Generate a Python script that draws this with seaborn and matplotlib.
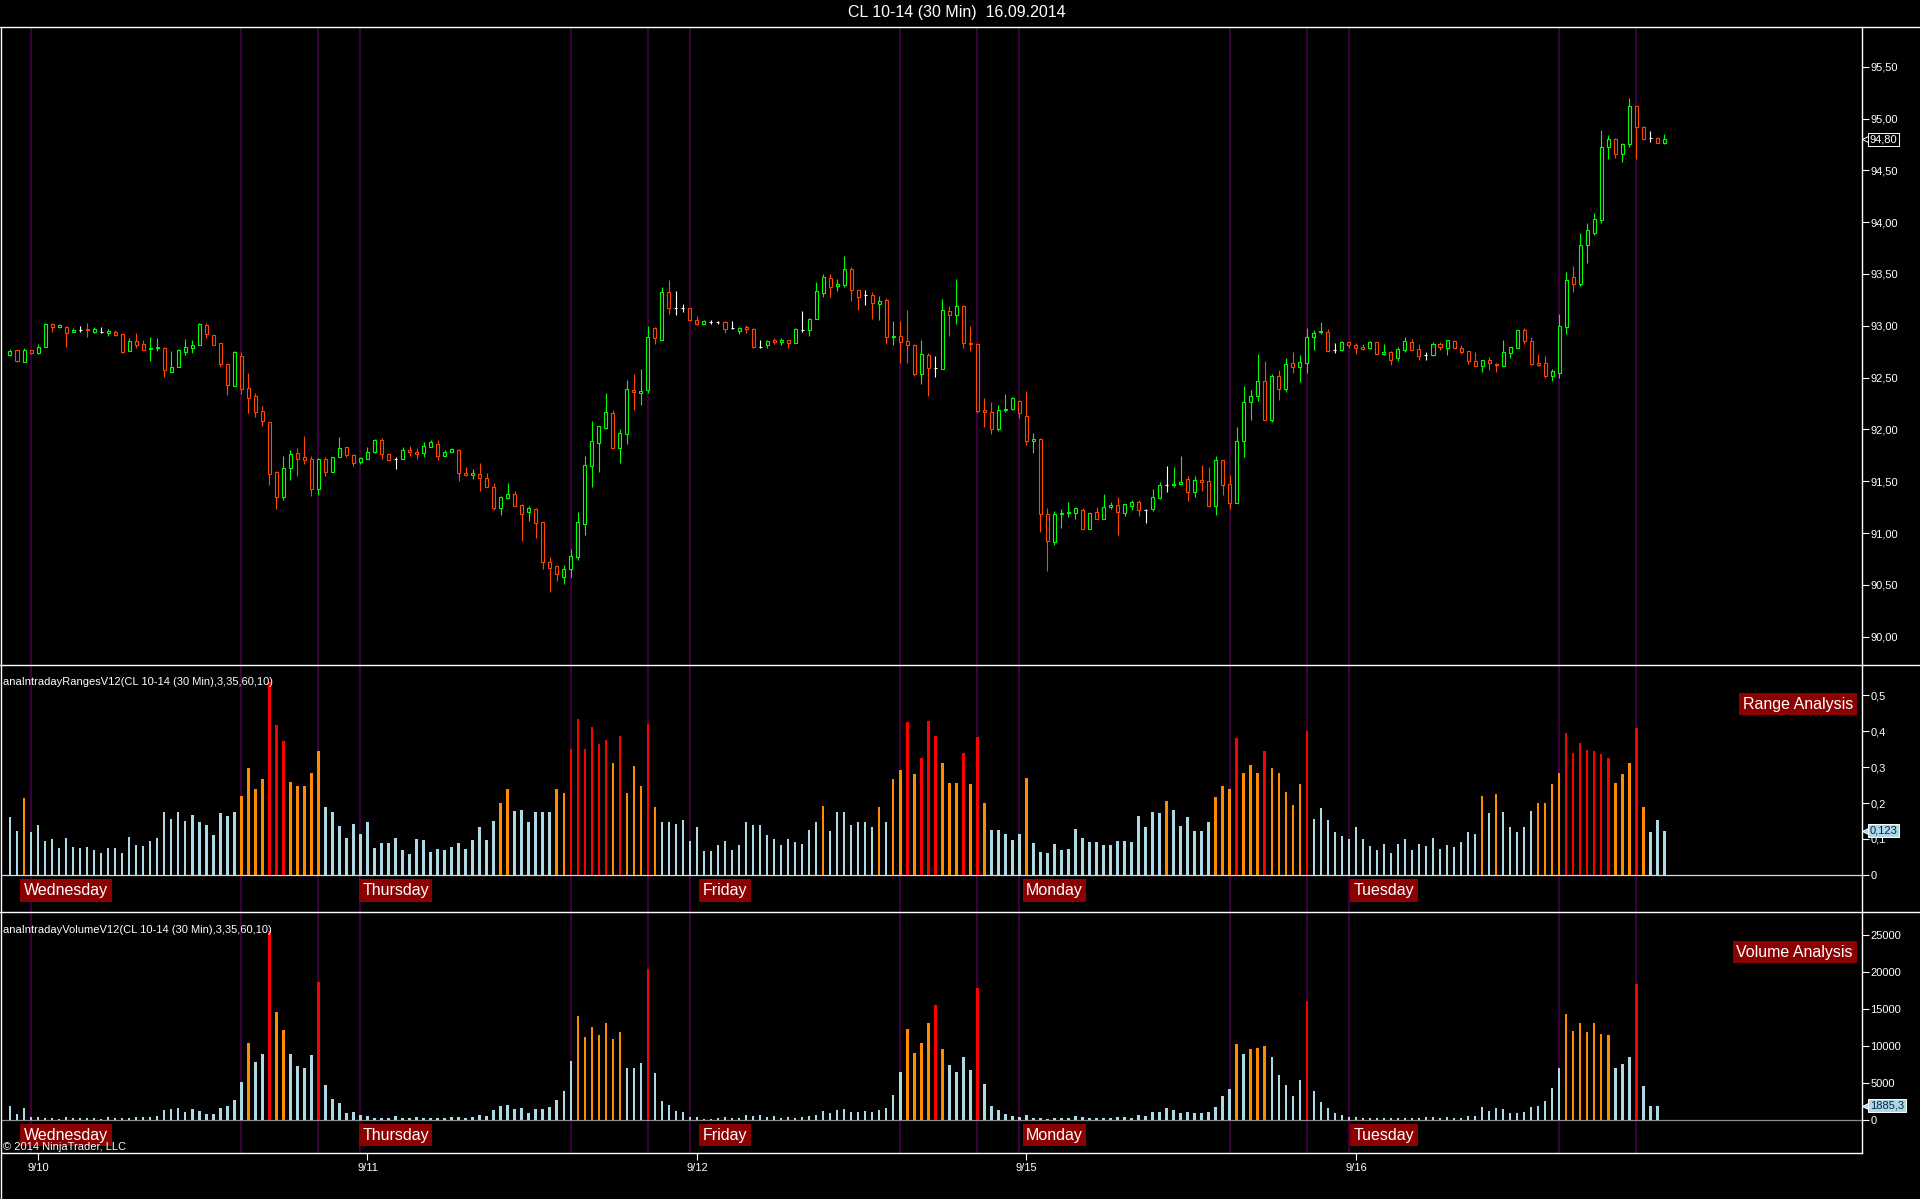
import numpy as np
import pandas as pd
import seaborn as sns
import matplotlib.pyplot as plt
import matplotlib.transforms as mtransforms
from matplotlib.lines import Line2D
from matplotlib.ticker import FuncFormatter

# ---- 30 min OHLC bars, CL 10-14, 9/10 .. 9/16 (bar 0 .. 236) ----
opens = [
    92.72, 92.77, 92.65, 92.77, 92.74, 92.80, 93.02, 92.99, 92.99, 92.94,
    92.96, 92.97, 92.94, 92.94, 92.93, 92.94, 92.92, 92.76, 92.85, 92.82,
    92.78, 92.79, 92.79, 92.55, 92.60, 92.75, 92.79, 92.81, 93.01, 92.91,
    92.83, 92.63, 92.42, 92.71, 92.40, 92.32, 92.18, 92.07, 91.59, 91.35,
    91.63, 91.77, 91.73, 91.71, 91.42, 91.71, 91.59, 91.73, 91.83, 91.75,
    91.69, 91.71, 91.78, 91.90, 91.76, 91.71, 91.71, 91.80, 91.78, 91.77,
    91.83, 91.86, 91.74, 91.78, 91.80, 91.58, 91.56, 91.57, 91.53, 91.44,
    91.24, 91.34, 91.38, 91.27, 91.20, 91.23, 91.11, 90.72, 90.68, 90.58,
    90.65, 90.77, 91.09, 91.65, 91.87, 92.01, 92.16, 91.82, 91.96, 92.38,
    92.35, 92.38, 92.98, 92.86, 93.33, 93.17, 93.17, 93.17, 93.06, 93.02,
    93.04, 93.04, 93.04, 92.98, 92.95, 92.99, 92.97, 92.80, 92.81, 92.86,
    92.84, 92.86, 92.83, 92.96, 92.96, 93.07, 93.32, 93.46, 93.38, 93.39,
    93.55, 93.35, 93.30, 93.30, 93.21, 93.25, 92.89, 92.90, 92.85, 92.81,
    92.53, 92.72, 92.59, 92.58, 93.14, 93.10, 93.19, 92.83, 92.82, 92.19,
    92.17, 92.00, 92.19, 92.20, 92.27, 92.13, 91.89, 91.91, 91.18, 90.91,
    91.18, 91.19, 91.19, 91.22, 91.04, 91.20, 91.14, 91.25, 91.27, 91.19,
    91.26, 91.30, 91.22, 91.23, 91.34, 91.46, 91.46, 91.47, 91.52, 91.40,
    91.51, 91.50, 91.26, 91.70, 91.47, 91.29, 91.89, 92.26, 92.32, 92.47,
    92.09, 92.52, 92.39, 92.64, 92.60, 92.64, 92.89, 92.94, 92.94, 92.77,
    92.77, 92.84, 92.81, 92.80, 92.79, 92.84, 92.73, 92.75, 92.69, 92.77,
    92.84, 92.78, 92.72, 92.72, 92.82, 92.79, 92.85, 92.79, 92.76, 92.66,
    92.61, 92.67, 92.63, 92.61, 92.74, 92.79, 92.96, 92.85, 92.64, 92.64,
    92.52, 92.54, 92.99, 93.47, 93.40, 93.78, 93.90, 94.02, 94.73, 94.80,
    94.66, 94.75, 95.12, 94.92, 94.81, 94.81, 94.76,
]
highs = [
    92.78, 92.77, 92.79, 92.77, 92.82, 93.03, 93.03, 93.02, 93.00, 92.98,
    93.00, 93.03, 92.99, 92.99, 92.97, 92.96, 92.92, 92.88, 92.93, 92.86,
    92.89, 92.88, 92.80, 92.76, 92.78, 92.87, 92.86, 93.03, 93.03, 92.91,
    92.83, 92.63, 92.76, 92.75, 92.54, 92.35, 92.23, 92.07, 91.60, 91.74,
    91.80, 91.82, 91.94, 91.74, 91.72, 91.73, 91.73, 91.93, 91.83, 91.76,
    91.73, 91.83, 91.91, 91.92, 91.76, 91.73, 91.83, 91.84, 91.82, 91.88,
    91.90, 91.90, 91.80, 91.82, 91.81, 91.64, 91.62, 91.68, 91.58, 91.48,
    91.36, 91.48, 91.41, 91.28, 91.26, 91.24, 91.11, 90.77, 90.68, 90.69,
    90.85, 91.20, 91.74, 92.08, 92.03, 92.35, 92.19, 92.00, 92.48, 92.53,
    92.58, 93.00, 92.99, 93.37, 93.44, 93.34, 93.21, 93.17, 93.09, 93.06,
    93.06, 93.05, 93.05, 93.05, 92.99, 93.01, 92.98, 92.86, 92.86, 92.88,
    92.88, 92.86, 92.98, 93.14, 93.08, 93.42, 93.50, 93.50, 93.45, 93.67,
    93.57, 93.35, 93.35, 93.33, 93.29, 93.27, 93.05, 93.05, 93.15, 92.82,
    92.86, 92.74, 92.71, 93.26, 93.19, 93.45, 93.20, 93.00, 92.83, 92.30,
    92.26, 92.24, 92.34, 92.31, 92.28, 92.37, 91.97, 91.92, 91.24, 91.21,
    91.23, 91.30, 91.25, 91.24, 91.19, 91.25, 91.38, 91.30, 91.35, 91.28,
    91.32, 91.32, 91.23, 91.42, 91.49, 91.65, 91.64, 91.74, 91.55, 91.55,
    91.66, 91.64, 91.74, 91.70, 91.56, 92.02, 92.42, 92.38, 92.73, 92.66,
    92.53, 92.57, 92.69, 92.75, 92.72, 92.98, 92.96, 93.04, 92.97, 92.83,
    92.85, 92.84, 92.83, 92.82, 92.85, 92.84, 92.82, 92.76, 92.80, 92.89,
    92.87, 92.82, 92.75, 92.84, 92.84, 92.86, 92.86, 92.81, 92.76, 92.75,
    92.67, 92.70, 92.64, 92.86, 92.80, 92.96, 92.98, 92.89, 92.73, 92.71,
    92.58, 93.11, 93.52, 93.58, 93.90, 93.99, 94.09, 94.89, 94.84, 94.81,
    94.76, 95.20, 95.12, 94.93, 94.88, 94.82, 94.85,
]
lows = [
    92.71, 92.65, 92.65, 92.73, 92.73, 92.80, 92.94, 92.98, 92.80, 92.94,
    92.94, 92.89, 92.93, 92.93, 92.90, 92.90, 92.74, 92.76, 92.79, 92.77,
    92.66, 92.76, 92.51, 92.55, 92.60, 92.72, 92.74, 92.81, 92.88, 92.81,
    92.60, 92.33, 92.42, 92.34, 92.16, 92.12, 92.03, 91.46, 91.23, 91.32,
    91.51, 91.55, 91.67, 91.36, 91.37, 91.55, 91.59, 91.73, 91.73, 91.65,
    91.67, 91.71, 91.77, 91.71, 91.70, 91.62, 91.71, 91.74, 91.71, 91.73,
    91.83, 91.70, 91.74, 91.78, 91.50, 91.55, 91.52, 91.41, 91.44, 91.22,
    91.17, 91.33, 91.26, 90.92, 91.12, 90.95, 90.65, 90.43, 90.54, 90.51,
    90.58, 90.74, 90.98, 91.44, 91.59, 92.00, 91.82, 91.68, 91.86, 92.19,
    92.24, 92.35, 92.82, 92.86, 93.11, 93.10, 93.13, 93.05, 93.01, 93.02,
    93.02, 93.02, 92.93, 92.97, 92.92, 92.93, 92.79, 92.79, 92.79, 92.82,
    92.81, 92.79, 92.83, 92.94, 92.90, 93.07, 93.28, 93.28, 93.34, 93.37,
    93.24, 93.15, 93.20, 93.07, 93.06, 92.82, 92.81, 92.64, 92.64, 92.52,
    92.44, 92.32, 92.51, 92.58, 92.90, 93.02, 92.79, 92.76, 92.16, 92.02,
    91.96, 91.98, 92.17, 92.19, 92.11, 91.85, 91.77, 91.01, 90.63, 90.88,
    91.05, 91.15, 91.14, 91.04, 91.04, 91.14, 91.14, 91.23, 90.98, 91.16,
    91.22, 91.16, 91.10, 91.21, 91.33, 91.40, 91.44, 91.47, 91.31, 91.35,
    91.41, 91.25, 91.17, 91.37, 91.23, 91.29, 91.73, 92.09, 92.27, 92.09,
    92.07, 92.28, 92.36, 92.54, 92.46, 92.54, 92.77, 92.92, 92.76, 92.74,
    92.76, 92.79, 92.73, 92.77, 92.78, 92.73, 92.72, 92.62, 92.66, 92.75,
    92.77, 92.67, 92.67, 92.71, 92.77, 92.72, 92.79, 92.73, 92.63, 92.61,
    92.55, 92.57, 92.55, 92.61, 92.69, 92.79, 92.82, 92.62, 92.61, 92.50,
    92.47, 92.50, 92.92, 93.33, 93.38, 93.61, 93.88, 93.99, 94.61, 94.62,
    94.58, 94.73, 94.61, 94.79, 94.77, 94.76, 94.75,
]
closes = [
    92.76, 92.66, 92.77, 92.74, 92.80, 93.02, 92.99, 93.01, 92.93, 92.96,
    92.96, 92.96, 92.97, 92.94, 92.95, 92.91, 92.75, 92.85, 92.81, 92.77,
    92.79, 92.80, 92.57, 92.60, 92.77, 92.80, 92.81, 93.02, 92.92, 92.81,
    92.63, 92.43, 92.75, 92.39, 92.30, 92.17, 92.08, 91.57, 91.35, 91.63,
    91.76, 91.71, 91.70, 91.42, 91.71, 91.59, 91.73, 91.82, 91.75, 91.68,
    91.72, 91.78, 91.90, 91.76, 91.70, 91.71, 91.80, 91.78, 91.76, 91.84,
    91.88, 91.74, 91.78, 91.81, 91.58, 91.56, 91.58, 91.53, 91.44, 91.24,
    91.35, 91.38, 91.26, 91.18, 91.24, 91.10, 90.72, 90.66, 90.60, 90.65,
    90.78, 91.11, 91.66, 91.89, 92.03, 92.17, 91.82, 91.97, 92.39, 92.36,
    92.37, 92.89, 92.88, 93.33, 93.17, 93.17, 93.17, 93.06, 93.02, 93.05,
    93.04, 93.04, 92.97, 92.98, 92.98, 92.97, 92.80, 92.80, 92.85, 92.84,
    92.86, 92.83, 92.97, 92.96, 93.07, 93.34, 93.47, 93.37, 93.40, 93.55,
    93.35, 93.28, 93.30, 93.22, 93.24, 92.89, 92.90, 92.84, 92.81, 92.53,
    92.73, 92.59, 92.59, 93.15, 93.10, 93.19, 92.83, 92.82, 92.18, 92.17,
    92.00, 92.19, 92.20, 92.30, 92.16, 91.89, 91.91, 91.18, 90.92, 91.18,
    91.19, 91.20, 91.24, 91.04, 91.19, 91.14, 91.25, 91.27, 91.20, 91.28,
    91.30, 91.22, 91.22, 91.35, 91.46, 91.46, 91.47, 91.49, 91.40, 91.51,
    91.49, 91.26, 91.70, 91.46, 91.29, 91.89, 92.26, 92.32, 92.47, 92.09,
    92.52, 92.39, 92.63, 92.60, 92.65, 92.89, 92.93, 92.95, 92.76, 92.77,
    92.84, 92.81, 92.79, 92.78, 92.84, 92.73, 92.75, 92.67, 92.78, 92.85,
    92.77, 92.71, 92.72, 92.82, 92.80, 92.86, 92.79, 92.75, 92.66, 92.61,
    92.67, 92.64, 92.62, 92.75, 92.80, 92.96, 92.85, 92.63, 92.62, 92.52,
    92.56, 93.00, 93.44, 93.40, 93.78, 93.92, 94.03, 94.73, 94.80, 94.66,
    94.75, 95.12, 94.92, 94.80, 94.81, 94.76, 94.80,
]

# ---- anaIntradayRanges (per bar) ----
ranges = [
    0.160, 0.121, 0.213, 0.118, 0.140, 0.093, 0.099, 0.076, 0.104, 0.078,
    0.075, 0.078, 0.070, 0.060, 0.076, 0.076, 0.062, 0.106, 0.084, 0.081,
    0.095, 0.104, 0.174, 0.157, 0.174, 0.151, 0.168, 0.146, 0.140, 0.112,
    0.171, 0.165, 0.176, 0.221, 0.299, 0.238, 0.266, 0.538, 0.417, 0.372,
    0.260, 0.247, 0.249, 0.283, 0.344, 0.190, 0.174, 0.137, 0.104, 0.143,
    0.115, 0.146, 0.076, 0.090, 0.090, 0.104, 0.070, 0.059, 0.101, 0.098,
    0.064, 0.073, 0.070, 0.078, 0.090, 0.073, 0.098, 0.134, 0.098, 0.151,
    0.199, 0.238, 0.179, 0.182, 0.148, 0.176, 0.174, 0.174, 0.238, 0.227,
    0.350, 0.434, 0.350, 0.411, 0.364, 0.375, 0.313, 0.386, 0.229, 0.302,
    0.249, 0.420, 0.190, 0.146, 0.146, 0.143, 0.154, 0.095, 0.132, 0.067,
    0.067, 0.084, 0.095, 0.070, 0.084, 0.146, 0.140, 0.140, 0.112, 0.101,
    0.084, 0.101, 0.092, 0.087, 0.126, 0.148, 0.193, 0.123, 0.174, 0.176,
    0.140, 0.148, 0.146, 0.132, 0.190, 0.148, 0.266, 0.291, 0.425, 0.280,
    0.327, 0.428, 0.386, 0.311, 0.257, 0.257, 0.341, 0.252, 0.383, 0.199,
    0.126, 0.126, 0.115, 0.098, 0.115, 0.271, 0.090, 0.064, 0.062, 0.087,
    0.070, 0.073, 0.129, 0.104, 0.092, 0.092, 0.084, 0.084, 0.095, 0.095,
    0.092, 0.165, 0.134, 0.176, 0.171, 0.207, 0.182, 0.137, 0.160, 0.123,
    0.123, 0.146, 0.218, 0.249, 0.238, 0.381, 0.283, 0.305, 0.283, 0.344,
    0.297, 0.283, 0.232, 0.196, 0.252, 0.400, 0.157, 0.185, 0.154, 0.120,
    0.109, 0.101, 0.132, 0.101, 0.081, 0.070, 0.087, 0.062, 0.087, 0.101,
    0.070, 0.087, 0.081, 0.104, 0.073, 0.084, 0.078, 0.092, 0.120, 0.115,
    0.221, 0.171, 0.224, 0.176, 0.134, 0.120, 0.132, 0.179, 0.201, 0.201,
    0.252, 0.283, 0.395, 0.341, 0.367, 0.347, 0.344, 0.336, 0.325, 0.257,
    0.280, 0.311, 0.409, 0.190, 0.120, 0.154, 0.123,
]
range_orange = [2, 33, 34, 35, 36, 40, 41, 42, 43, 44, 70, 71, 78, 79, 86,
                88, 89, 90, 92, 116, 124, 126, 127, 129, 133, 134, 135, 137,
                139, 145, 165, 172, 173, 174, 176, 177, 178, 180, 181, 182,
                183, 184, 210, 212, 218, 219, 220, 221, 229, 230, 231, 233]
range_red = [37, 38, 39, 80, 81, 82, 83, 84, 85, 87, 91, 128, 130, 131, 132,
             136, 138, 175, 179, 185, 222, 223, 224, 225, 226, 227, 228, 232]

# ---- anaIntradayVolume (per bar, last bar not yet plotted) ----
volumes = [
    1894, 812, 1624, 406, 406, 270, 270, 135, 406, 270,
    270, 270, 270, 135, 406, 270, 270, 270, 406, 406,
    406, 541, 1353, 1488, 1624, 1082, 1488, 1218, 812, 812,
    1624, 1894, 2706, 5141, 10418, 7847, 8930, 25481, 14612, 12177,
    8930, 7306, 7036, 8795, 18671, 4736, 2841, 2300, 947, 1082,
    677, 541, 270, 270, 270, 541, 270, 270, 406, 270,
    270, 270, 270, 406, 406, 270, 406, 677, 541, 1353,
    1894, 2030, 1488, 1624, 947, 1488, 1488, 1759, 2706, 3924,
    7983, 14071, 11230, 12583, 11500, 13124, 10959, 11906, 7036, 7036,
    7712, 20430, 6359, 2571, 2030, 1218, 1082, 406, 406, 135,
    135, 270, 406, 270, 270, 677, 541, 677, 406, 541,
    270, 406, 270, 406, 541, 677, 1218, 947, 1353, 1488,
    1082, 1082, 1218, 1082, 1353, 1624, 3383, 6494, 12312, 9065,
    10418, 13124, 15560, 9606, 7442, 6494, 8524, 6765, 17860, 4871,
    1894, 1353, 812, 541, 406, 677, 270, 270, 135, 270,
    270, 270, 541, 406, 270, 270, 270, 270, 406, 406,
    270, 677, 541, 1082, 1082, 1624, 1353, 947, 1082, 947,
    947, 1082, 1759, 3247, 4194, 10283, 8930, 9606, 9742, 10012,
    8524, 6089, 4736, 3247, 5412, 16101, 3924, 2435, 1624, 947,
    677, 406, 406, 270, 270, 270, 270, 270, 270, 270,
    270, 270, 406, 406, 270, 406, 270, 270, 541, 541,
    1759, 1218, 1624, 1488, 947, 947, 1082, 1759, 1894, 2571,
    4330, 7036, 14342, 12042, 13124, 11906, 13124, 11636, 11500, 7036,
    7577, 8524, 18401, 4600, 1894, 1885.3,
]
volume_orange = [34, 38, 39, 81, 82, 83, 84, 85, 86, 87, 128, 129, 130, 131,
                 133, 175, 177, 178, 179, 222, 223, 224, 225, 226, 227, 228]
volume_red = [37, 44, 91, 132, 138, 185, 232]

# ---- session markers ----
session_start = [3, 50, 97, 144, 191]
pit_open = [33, 80, 127, 174, 221]
pit_close = [44, 91, 138, 185, 232]
day_names = ["Wednesday", "Thursday", "Friday", "Monday", "Tuesday"]
date_labels = ["9/10", "9/11", "9/12", "9/15", "9/16"]

title = "CL 10-14 (30 Min)  16.09.2014"
range_name = "anaIntradayRangesV12(CL 10-14 (30 Min),3,35,60,10)"
volume_name = "anaIntradayVolumeV12(CL 10-14 (30 Min),3,35,60,10)"

# ---------------------------------------------------------------
sns.set_style("dark", {"axes.facecolor": "black", "figure.facecolor": "black"})
plt.rcParams["font.family"] = ["Liberation Sans", "DejaVu Sans"]

W, H = 1920, 1199
fig = plt.figure(figsize=(W / 100, H / 100), dpi=100, facecolor="black")

X_LEFT, X_RIGHT = 2, 1862
XLIM = (-1.14, 264.2)
PURPLE = "#420042"
UP, DOWN = "#00ff00", "#ff4500"
LIGHTBLUE, ORANGE, RED = "#add8e6", "#ff8c00", "#ff0000"
BOXRED = "#8b0000"
LABEL_BOX = dict(boxstyle="square,pad=0.22", fc=BOXRED, ec="none")


def panel(top, bottom):
    ax = fig.add_axes([X_LEFT / W, 1 - bottom / H, (X_RIGHT - X_LEFT) / W, (bottom - top) / H])
    ax.set_facecolor("black")
    for s in ax.spines.values():
        s.set_visible(False)
    ax.spines["right"].set_visible(True)
    ax.spines["right"].set_color("white")
    ax.spines["right"].set_linewidth(1.0)
    ax.yaxis.tick_right()
    ax.tick_params(axis="y", colors="white", length=5, width=0.8, labelsize=8, pad=1,
                   left=False, labelleft=False, right=True, labelright=True)
    ax.tick_params(axis="x", bottom=False, labelbottom=False)
    ax.grid(False)
    return ax


def hline(y, x0=0, x1=W, color="white", lw=1.0):
    fig.add_artist(Line2D([x0 / W, x1 / W], [1 - y / H, 1 - y / H], color=color, lw=lw,
                          transform=fig.transFigure))


ax_p = panel(27, 665)
ax_r = panel(665, 912)
ax_v = panel(912, 1153)

idx = np.arange(len(opens))
o, h, l, c = map(np.array, (opens, highs, lows, closes))
cols = np.where(c > o, UP, np.where(c < o, DOWN, "white"))

# session / pit lines in all panels
for ax in (ax_p, ax_r, ax_v):
    for x in session_start + pit_open + pit_close:
        ax.axvline(x, color=PURPLE, lw=1.3, zorder=0.5)

# ---- price panel: candles ----
ax_p.vlines(idx, l, h, colors=cols, lw=0.8, zorder=2)
ax_p.bar(idx, c - o, bottom=o, width=0.43, facecolor="black", edgecolor=cols,
         linewidth=0.8, zorder=3)
ax_p.set_ylim(89.726, 95.884)
ax_p.set_yticks(np.arange(90.0, 95.51, 0.5))
ax_p.yaxis.set_major_formatter(FuncFormatter(lambda v, _: f"{v:.2f}".replace(".", ",")))

# ---- range / volume panels via seaborn ----
pal = {"n": LIGHTBLUE, "o": ORANGE, "r": RED}
r_level = np.array(["n"] * len(ranges), dtype=object)
r_level[range_orange] = "o"
r_level[range_red] = "r"
df_r = pd.DataFrame({"bar": np.arange(len(ranges)), "value": ranges, "level": r_level})

v_level = np.array(["n"] * len(volumes), dtype=object)
v_level[volume_orange] = "o"
v_level[volume_red] = "r"
df_v = pd.DataFrame({"bar": np.arange(len(volumes)), "value": volumes, "level": v_level})

sns.barplot(data=df_r, x="bar", y="value", hue="level", palette=pal, native_scale=True,
            dodge=False, width=0.36, errorbar=None, saturation=1, legend=False,
            linewidth=0, ax=ax_r, zorder=2)
sns.barplot(data=df_v, x="bar", y="value", hue="level", palette=pal, native_scale=True,
            dodge=False, width=0.36, errorbar=None, saturation=1, legend=False,
            linewidth=0, ax=ax_v, zorder=2)

ax_r.set_ylim(-0.1037, 0.585)
ax_r.set_yticks([0, 0.1, 0.2, 0.3, 0.4, 0.5])
ax_r.yaxis.set_major_formatter(FuncFormatter(lambda v, _: "0" if abs(v) < 1e-9 else f"{v:.1f}".replace(".", ",")))
ax_r.axhline(0, color="#d8d8d8", lw=0.9, zorder=1)

ax_v.set_ylim(-4536, 28100)
ax_v.set_yticks([0, 5000, 10000, 15000, 20000, 25000])
ax_v.yaxis.set_major_formatter(FuncFormatter(lambda v, _: f"{int(round(v))}"))
ax_v.axhline(0, color="#8c8c8c", lw=0.9, zorder=1)

for ax in (ax_p, ax_r, ax_v):
    ax.set_xlim(*XLIM)
    ax.set_xlabel("")
    ax.set_ylabel("")

# date axis at the bottom
ax_v.spines["bottom"].set_visible(True)
ax_v.spines["bottom"].set_color("white")
ax_v.spines["bottom"].set_linewidth(1.0)
ax_v.set_xticks([s + 1 for s in session_start])
ax_v.set_xticklabels(date_labels)
ax_v.tick_params(axis="x", bottom=True, labelbottom=True, colors="white", length=5,
                 width=0.8, labelsize=8, pad=2)

# day name boxes
for ax, yfrac in ((ax_r, 0.087), (ax_v, 0.073)):
    tr = mtransforms.blended_transform_factory(ax.transData, ax.transAxes)
    for s, name in zip(session_start, day_names):
        ax.text(s + 5, yfrac, name, transform=tr, ha="center", va="center", color="white",
                fontsize=11.5, zorder=5, bbox=LABEL_BOX)


# current value markers on the right axes
def value_box(ax, y, text, fc, tc, ec):
    tr = mtransforms.blended_transform_factory(ax.transAxes, ax.transData)
    ax.plot([1.0022], [y], marker="<", ms=6, mfc=fc, mec=ec, mew=0.7, transform=tr,
            clip_on=False, zorder=6)
    ax.text(1.0042, y, text, transform=tr, ha="left", va="center", color=tc, fontsize=8,
            zorder=7, clip_on=False,
            bbox=dict(boxstyle="square,pad=0.15", fc=fc, ec=ec, lw=0.7))


value_box(ax_p, closes[-1], f"{closes[-1]:.2f}".replace(".", ","), "black", "white", "white")
value_box(ax_r, ranges[-1], f"{ranges[-1]:.3f}".replace(".", ","), LIGHTBLUE, "#10204a", "white")
value_box(ax_v, volumes[-1], f"{volumes[-1]:.1f}".replace(".", ","), LIGHTBLUE, "#10204a", "white")

# frame lines and texts
hline(27)
hline(665)
hline(912)
fig.add_artist(Line2D([1 / W, 1 / W], [1 - 27 / H, 0], color="white", lw=1.0,
                      transform=fig.transFigure))

fig.text(957 / W, 1 - 13 / H, title, ha="center", va="center", color="white", fontsize=11.5)
fig.text(3 / W, 1 - 682 / H, range_name, ha="left", va="center", color="white", fontsize=8)
fig.text(3 / W, 1 - 930 / H, volume_name, ha="left", va="center", color="white", fontsize=8)
fig.text(3 / W, 1 - 1147 / H, "\u00a9 2014 NinjaTrader, LLC", ha="left", va="center",
         color="white", fontsize=8, zorder=10)
fig.text(1853 / W, 1 - 704 / H, "Range Analysis", ha="right", va="center", color="white",
         fontsize=11.5, bbox=LABEL_BOX)
fig.text(1853 / W, 1 - 952 / H, "Volume Analysis", ha="right", va="center", color="white",
         fontsize=11.5, bbox=LABEL_BOX)

fig.savefig("out.png", dpi=100, facecolor="black")
